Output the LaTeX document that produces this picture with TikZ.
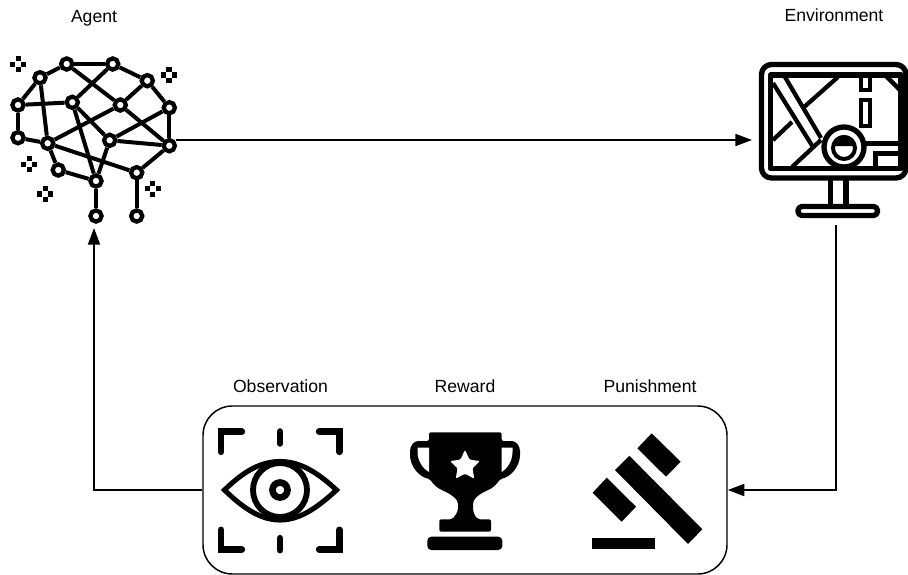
\documentclass[tikz,border=0pt]{standalone}
\usepackage{fontspec}
\setmainfont{Liberation Sans}
\usetikzlibrary{arrows.meta,backgrounds,calc}
\tikzset{
  x=0.75pt,y=-0.75pt,
  lab/.style={font=\fontsize{13.2pt}{15pt}\selectfont,text=black,inner sep=0pt,anchor=base},
  frameicon/.style={inner sep=0pt,outer sep=0pt,draw=none},
  flow/.style={line width=1.5pt,-{Triangle[length=12.5pt,width=9pt]}},
  neuron/.style={circle,draw=black,fill=white,line width=3.2pt,minimum size=8.4pt,inner sep=0pt},
  synapse/.style={line width=3pt},
  mon/.style={line width=4pt,line join=round},
  mapline/.style={line width=3.2pt},
  corner/.style={line width=5.2pt,line cap=round,line join=miter},
}
\begin{document}
\begin{tikzpicture}
\useasboundingbox (0,0) rectangle (908,575);
% labels
\node[lab] (tagent) at (94,22) {Agent};
\node[lab] (tenv) at (834,21.5) {Environment};
\node[lab] (tobs) at (280.5,392) {Observation};
\node[lab] (trew) at (465,392) {Reward};
\node[lab] (tpun) at (650,392) {Punishment};
% invisible icon frames
\node[frameicon,minimum width=123pt,minimum height=132pt] (agent) at (94,140) {};
\node[frameicon,minimum width=126pt,minimum height=127.5pt] (env) at (836,140) {};
% panel
\node[draw=black,line width=1.1pt,rounded corners=22pt,minimum width=393pt,minimum height=126pt,inner sep=0pt] (panel) at (465,490) {};
% connectors
\draw[flow] (agent.east) -- (env.west);
\draw[flow] (env.south) |- (panel.east);
\draw[flow] (panel.west) -| (agent.south);
% brain
\foreach \n/\px/\py in {a/66.7/64,b/112.7/64,c/40/77.7,d/147.3/80.7,e/18/105,f/72.3/102.3,g/120.3/105,h/169.3/107.7,i/18/137.7,j/47.7/143.3,k/109.7/140.3,l/169.3/145.7,m/58.3/170,o/96/181,p/136.7/172.7,q/96/216,r/136.7/216}
  \node[neuron] (\n) at (\px,\py) {};
\begin{scope}[on background layer]
\foreach \s/\t in {a/b,a/c,c/e,e/i,i/j,e/f,c/j,f/b,b/d,d/g,d/h,h/l,a/g,g/l,f/k,f/o,g/j,h/k,k/l,k/o,j/p,j/m,m/o,p/l,o/q,p/r}
  \draw[synapse] (\s) -- (\t);
\end{scope}
% sparkles
\foreach \sx/\sy in {18.3/64.3,169/75,29.3/164.3,45.3/194,152.7/188.7}
  \foreach \dx/\dy in {0/-5.5,0/5.5,-5.5/0,5.5/0}
    \fill (\sx+\dx-2.6,\sy+\dy-2.6) rectangle (\sx+\dx+2.6,\sy+\dy+2.6);
% monitor
\draw[mon,rounded corners=7.5pt] (761.5,64.5) rectangle (906,178);
\draw[mon] (770.5,75) rectangle (901,168.5);
\draw[mon] (830.5,180) -- (830.5,204) (846,180) -- (846,204);
\draw[mon,rounded corners=3pt] (798,206.5) rectangle (877.5,215.5);
\begin{scope}
\clip (770.5,75) rectangle (901,168.5);
\draw[mapline] (773,83) -- (813,147);
\draw[mapline] (785,77) -- (821,138);
\draw[mapline] (838,77) -- (803,108);
\draw[mapline] (792,122) -- (773,140);
\draw[mapline] (792,167) -- (821,140);
\draw[mapline] (861,75) -- (861,90) -- (870,90) -- (870,75);
\draw[mapline] (861,100) rectangle (870,126);
\draw[mapline] (886,76) -- (901,91);
\draw[mapline,line width=3.5pt] (865,143.5) -- (901,143.5);
\draw[mapline,line width=3.5pt] (901,153.5) -- (875.5,153.5) -- (875.5,168);
\end{scope}
\draw[mon,fill=white] (844,147) circle[radius=20];
\draw[mon,line width=3pt] (844,148) circle[radius=11];
\fill (833,146) -- (855,146) arc[start angle=0,end angle=-180,radius=11] -- cycle;
% eye
\draw[line width=3.8pt,line join=miter] (224.5,490) .. controls (245,470) and (262,461.5) .. (280,461.5) .. controls (298,461.5) and (315,470) .. (336.5,490) .. controls (315,510) and (298,520) .. (280,520) .. controls (262,520) and (245,510) .. (224.5,490) -- cycle;
\draw[line width=4.4pt] (280,490) circle[radius=27];
\draw[line width=5pt] (280,490) circle[radius=7.5];
\draw[corner] (221,451.7) -- (221,431.7) -- (241.7,431.7);
\draw[corner] (319.3,431.7) -- (339.3,431.7) -- (339.3,451.7);
\draw[corner] (221,530) -- (221,549.3) -- (241.7,549.3);
\draw[corner] (319.3,549.3) -- (339.3,549.3) -- (339.3,530);
\draw[corner] (280,431.7) -- (280,443.3);
\draw[corner] (280,538.3) -- (280,550);
% trophy
\fill[rounded corners=1.5pt] (429,441) -- (429,432.3) -- (501.7,432.3) -- (501.7,441)
 -- (510,441) .. controls (516,441) and (520,446) .. (520,453)
 .. controls (520,466) and (511,477) .. (500,479)
 .. controls (497,484) and (493,488) .. (486,491)
 .. controls (478,495) and (473,499) .. (473,506)
 .. controls (473,512) and (475,516) .. (478,519.3)
 -- (491,519.3) -- (491,531.7) -- (439.3,531.7) -- (439.3,519.3) -- (452,519.3)
 .. controls (455,516) and (458,512) .. (458,506)
 .. controls (458,499) and (452,495) .. (444,491)
 .. controls (437,488) and (433,484) .. (430,479)
 .. controls (419,477) and (410,466) .. (410,453)
 .. controls (410,446) and (414,441) .. (420,441) -- cycle;
\fill[white] (417.5,447.5) -- (429,447.5) -- (429,472) .. controls (422,468) and (417.5,460) .. (417.5,452) -- cycle;
\fill[white] (512.5,447.5) -- (501.7,447.5) -- (501.7,472) .. controls (508,468) and (512.5,460) .. (512.5,452) -- cycle;
\fill[rounded corners=3pt] (427.3,536.7) rectangle (502.3,550);
\fill[white,rounded corners=1pt] (465,450) -- (469.6,459.7) -- (480,461) -- (472.4,468.3) -- (474.3,478.7) -- (465,473.7) -- (455.7,478.7) -- (457.6,468.3) -- (450,461) -- (460.4,459.7) -- cycle;
% gavel
\fill (651.7,433.3) -- (680.7,461.7) -- (666,476.7) -- (637.3,448.3) -- cycle;
\fill (629.3,455.7) -- (702.3,529.3) -- (688,544) -- (615,470) -- cycle;
\fill (606.7,477.7) -- (636,506.7) -- (621.7,521.7) -- (592.7,492.7) -- cycle;
\fill (592.3,537.7) rectangle (654.7,548.7);
\end{tikzpicture}
\end{document}
